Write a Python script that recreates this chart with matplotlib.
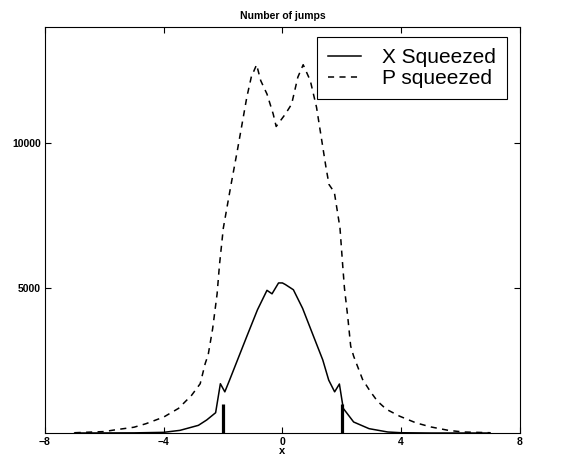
import matplotlib
matplotlib.use('Agg')
import matplotlib.pyplot as plt

plt.rcParams['font.family'] = ['Liberation Sans', 'DejaVu Sans']

# jump counts, P squeezed (dashed)
x_p = [-7.0, -6.0, -5.6, -5.0, -4.6, -4.0, -3.5, -3.06, -2.77, -2.6, -2.5, -2.35,
       -2.2, -2.12, -1.99, -1.73, -1.52, -1.36, -1.2, -1.05, -0.87, -0.73, -0.52,
       -0.31, -0.21, 0.1, 0.31, 0.52, 0.7, 0.94, 1.15, 1.31, 1.47, 1.57, 1.75,
       1.94, 2.03, 2.09, 2.2, 2.3, 2.4, 2.7, 2.95, 3.2, 3.5, 3.95, 4.5, 5.0, 5.6,
       6.1, 7.0]
n_p = [10, 50, 115, 200, 320, 550, 850, 1300, 1700, 2400, 2700, 3600,
       4800, 5800, 7070, 8570, 9730, 10650, 11575, 12270, 12700, 12150, 11690,
       11000, 10570, 11000, 11340, 12270, 12700, 12150, 11230, 10190, 9150, 8570, 8300,
       7070, 5800, 5000, 4020, 3000, 2650, 1850, 1450, 1100, 820, 580, 350, 210, 90,
       35, 10]

# jump counts, X squeezed (solid)
x_x = [-7.0, -5.0, -4.0, -3.45, -2.83, -2.55, -2.25, -2.09, -1.94, -1.78, -1.47,
       -1.2, -0.84, -0.52, -0.35, -0.13, 0.0, 0.1, 0.37, 0.68, 1.05, 1.36, 1.56,
       1.76, 1.92, 2.05, 2.4, 2.92, 3.55, 4.0, 5.0, 7.0]
n_x = [0, 5, 23, 92, 265, 450, 700, 1700, 1420, 1825, 2630,
       3330, 4250, 4920, 4800, 5175, 5175, 5120, 4940, 4300, 3330, 2520, 1825,
       1420, 1690, 850, 380, 150, 35, 10, 0, 0]

# markers at x = -2 and x = 2
x_marks = [-2.0, 2.0]
h_marks = [990, 990]

fig = plt.figure(figsize=(5.62, 4.61), dpi=100)
ax = fig.add_axes([0.080, 0.0607, 0.845, 0.8807])

ax.plot(x_x, n_x, 'k-', lw=1.1, label='X Squeezed')
ax.plot(x_p, n_p, 'k--', lw=1.1, dashes=(4, 3.5), label='P squeezed')
ax.vlines(x_marks, 0, h_marks, colors='k', lw=2.3)

ax.set_xlim(-8, 8)
ax.set_ylim(0, 14000)
ax.set_xticks([-8, -4, 0, 4, 8])
ax.set_xticklabels(['\u22128', '\u22124', '0', '4', '8'])
ax.set_yticks([5000, 10000])
ax.tick_params(direction='in', top=True, right=True, length=4, width=0.8,
               labelsize=7.5, pad=3)
for lab in ax.get_xticklabels() + ax.get_yticklabels():
    lab.set_fontweight('bold')

ax.set_title('Number of jumps', fontsize=7.5, fontweight='bold', pad=6)
ax.set_xlabel('x', fontsize=8, fontweight='bold', labelpad=-1)

leg = ax.legend(loc='upper right', bbox_to_anchor=(0.9726, 0.975), borderaxespad=0,
                fontsize=15, frameon=True, fancybox=False, edgecolor='k',
                framealpha=1, handlelength=1.6, handletextpad=1.0,
                borderpad=0.53, labelspacing=0.1)
leg.get_frame().set_linewidth(0.8)

plt.savefig('out.png', dpi=100)
plt.close('all')
